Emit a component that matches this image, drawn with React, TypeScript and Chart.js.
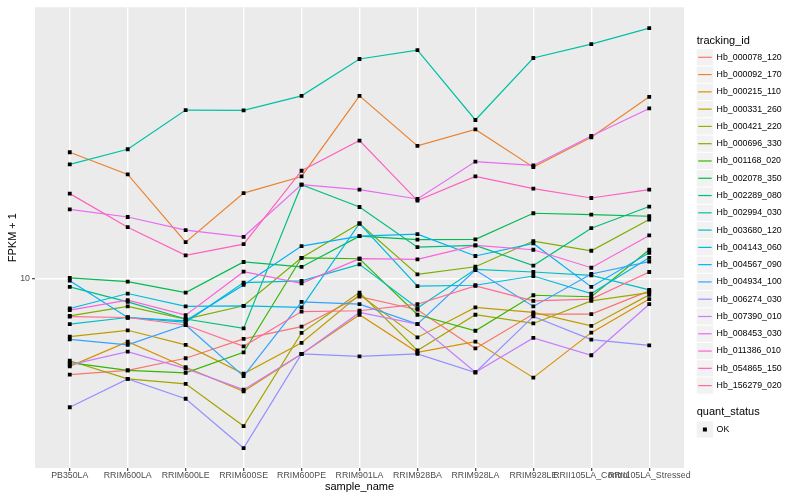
import React, { useEffect, useRef } from "react";
import { Chart, registerables } from "chart.js";

Chart.register(...registerables);

// ---------- data ----------
const sampleNames = [
  "PB350LA", "RRIM600LA", "RRIM600LE", "RRIM600SE", "RRIM600PE", "RRIM901LA",
  "RRIM928BA", "RRIM928LA", "RRIM928LE", "RRII105LA_Control", "RRII105LA_Stressed",
];

const trackingIds = [
  "Hb_000078_120", "Hb_000092_170", "Hb_000215_110", "Hb_000331_260", "Hb_000421_220",
  "Hb_000696_330", "Hb_001168_020", "Hb_002078_350", "Hb_002289_080", "Hb_002994_030",
  "Hb_003680_120", "Hb_004143_060", "Hb_004567_090", "Hb_004934_100", "Hb_006274_030",
  "Hb_007390_010", "Hb_008453_030", "Hb_011386_010", "Hb_054865_150", "Hb_156279_020",
];

const trackColors = [
  "#F8766D", "#EA8331", "#D89000", "#C09B00", "#A3A500",
  "#7CAE00", "#39B600", "#00BB4E", "#00BF7D", "#00C1A3",
  "#00BFC4", "#00BAE0", "#00B0F6", "#35A2FF", "#9590FF",
  "#C77CFF", "#E76BF3", "#FA62DB", "#FF62BC", "#FF6C91",
];

// FPKM + 1 per sample (same order as sampleNames)
const hb000078_120 = [5.75, 5.89, 6.32, 7.07, 7.59, 9.03, 8.37, 6.69, 8.16, 8.16, 9.33];
const hb000092_170 = [20.81, 18.3, 12.37, 16.43, 18.09, 28.84, 21.59, 23.75, 19.09, 22.69, 28.67];
const hb000215_110 = [6.03, 6.96, 6.0, 5.22, 6.48, 8.13, 6.54, 6.96, 5.65, 7.33, 8.9];
const hb000331_260 = [7.16, 7.43, 6.83, 5.78, 6.91, 9.12, 7.13, 8.48, 8.24, 7.62, 9.12];
const hb000421_220 = [6.23, 5.61, 5.45, 4.27, 7.32, 9.24, 6.61, 8.13, 7.73, 8.81, 9.24];
const hb000696_330 = [8.08, 8.53, 7.93, 8.56, 11.3, 13.78, 10.27, 10.73, 12.45, 11.77, 14.1];
const hb001168_020 = [6.16, 5.89, 5.81, 6.54, 11.3, 11.24, 8.13, 7.41, 9.1, 9.02, 11.84];
const hb002078_350 = [10.06, 9.85, 9.24, 11.03, 10.72, 12.81, 12.55, 12.57, 14.62, 14.51, 14.37];
const hb002289_080 = [9.55, 8.76, 7.93, 7.51, 17.25, 15.16, 12.02, 12.14, 10.8, 13.41, 15.2];
const hb002994_030 = [19.39, 21.17, 26.56, 26.5, 28.84, 35.69, 37.58, 25.08, 35.89, 38.9, 42.66];
const hb003680_120 = [7.7, 8.0, 7.78, 9.79, 9.89, 10.88, 8.45, 10.57, 10.41, 10.21, 9.39];
const hb004143_060 = [8.43, 9.19, 8.53, 8.56, 8.48, 13.78, 9.59, 9.64, 10.17, 9.19, 11.3];
const hb004567_090 = [9.9, 8.0, 7.85, 9.66, 12.09, 12.81, 12.96, 11.42, 12.28, 9.55, 11.63];
const hb004934_100 = [7.05, 6.83, 7.66, 5.7, 8.76, 8.64, 7.7, 10.53, 8.53, 10.29, 11.05];
const hb006274_030 = [4.76, 5.61, 5.0, 3.76, 6.48, 6.39, 6.48, 5.82, 8.05, 7.04, 6.81];
const hb007390_010 = [6.08, 6.57, 5.95, 5.27, 6.48, 8.24, 7.7, 5.83, 7.11, 6.43, 8.64];
const hb008453_030 = [14.96, 14.31, 13.26, 12.76, 17.25, 16.76, 15.88, 19.72, 19.28, 22.87, 26.81];
const hb011386_010 = [8.35, 8.85, 8.11, 10.43, 9.75, 11.24, 11.2, 12.14, 11.84, 10.67, 12.86];
const hb054865_150 = [16.38, 13.49, 11.46, 12.23, 18.7, 22.26, 15.73, 18.09, 16.86, 15.97, 16.76];
const hb156279_020 = [8.04, 8.0, 7.66, 6.77, 8.28, 8.32, 8.64, 9.61, 8.81, 8.9, 10.41];

const seriesValues = [
  hb000078_120, hb000092_170, hb000215_110, hb000331_260, hb000421_220,
  hb000696_330, hb001168_020, hb002078_350, hb002289_080, hb002994_030,
  hb003680_120, hb004143_060, hb004567_090, hb004934_100, hb006274_030,
  hb007390_010, hb008453_030, hb011386_010, hb054865_150, hb156279_020,
];

const yTickValues = [10];
const yRange = [3.35, 48.13];
const quantStatus = ["OK"];

// ---------- chart ----------
const FONT = '"Liberation Sans", Arial, Helvetica, sans-serif';

const panelPlugin = {
  id: "panelBg",
  beforeDraw(chart: any) {
    const { ctx, chartArea: a } = chart;
    ctx.save();
    ctx.fillStyle = "#FFFFFF";
    ctx.fillRect(0, 0, chart.width, chart.height);
    ctx.fillStyle = "#EBEBEB";
    ctx.fillRect(a.left, a.top, a.right - a.left, a.bottom - a.top);
    ctx.restore();
  },
};

const legendPlugin = {
  id: "ggLegend",
  afterDraw(chart: any) {
    const ctx = chart.ctx;
    const x0 = 696.7;
    ctx.save();
    ctx.textBaseline = "middle";
    ctx.textAlign = "left";
    ctx.fillStyle = "#000000";
    ctx.font = `11px ${FONT}`;
    ctx.fillText("tracking_id", x0, 40.5);
    ctx.font = `8.8px ${FONT}`;
    trackingIds.forEach((id, i) => {
      const cy = 57.3 + i * 17.28;
      ctx.fillStyle = "#F2F2F2";
      ctx.fillRect(x0, cy - 8.1, 16.4, 16.2);
      ctx.strokeStyle = trackColors[i];
      ctx.lineWidth = 1.2;
      ctx.beginPath();
      ctx.moveTo(x0 + 1.5, cy);
      ctx.lineTo(x0 + 15, cy);
      ctx.stroke();
      ctx.fillStyle = "#000000";
      ctx.fillText(id, 716.6, cy);
    });
    ctx.font = `11px ${FONT}`;
    ctx.fillText("quant_status", x0, 412.3);
    quantStatus.forEach((s, i) => {
      const cy = 429.5 + i * 17.28;
      ctx.fillStyle = "#F2F2F2";
      ctx.fillRect(x0, cy - 8.1, 16.4, 16.2);
      ctx.fillStyle = "#000000";
      ctx.fillRect(x0 + 6.2, cy - 2, 4, 4);
      ctx.font = `8.8px ${FONT}`;
      ctx.fillText(s, 716.6, cy);
    });
    ctx.restore();
  },
};

export default function App() {
  const canvasRef = useRef<HTMLCanvasElement | null>(null);

  useEffect(() => {
    const canvas = canvasRef.current;
    if (!canvas) return;

    const n = seriesValues.length;
    const lineSets = seriesValues.map((vals, i) => ({
      type: "line" as const,
      label: trackingIds[i],
      data: vals.map((v, j) => ({ x: j, y: v })),
      borderColor: trackColors[i],
      backgroundColor: trackColors[i],
      borderWidth: 1.2,
      pointRadius: 0,
      tension: 0,
      fill: false,
      order: n - i,
    }));

    const pointSet = {
      type: "line" as const,
      label: "quant_status",
      data: seriesValues.flatMap((vals) => vals.map((v, j) => ({ x: j, y: v }))),
      showLine: false,
      pointStyle: "rect" as const,
      pointRadius: 2.7,
      pointBackgroundColor: "#000000",
      pointBorderWidth: 0,
      borderColor: "#000000",
      order: 0,
    };

    const chart = new Chart(canvas, {
      type: "line",
      data: { datasets: [...lineSets, pointSet] as any },
      options: {
        animation: false,
        responsive: false,
        devicePixelRatio: 1,
        events: [],
        layout: { padding: { left: 0, right: 116, top: 5, bottom: 0 } },
        plugins: { legend: { display: false }, tooltip: { enabled: false } },
        scales: {
          x: {
            type: "linear",
            min: -0.6,
            max: 10.6,
            afterBuildTicks: (scale: any) => {
              scale.ticks = sampleNames.map((_, i) => ({ value: i }));
            },
            afterFit: (scale: any) => {
              scale.height = 32;
            },
            ticks: {
              autoSkip: false,
              maxRotation: 0,
              minRotation: 0,
              padding: 0.6,
              color: "#4D4D4D",
              font: { family: FONT, size: 8.8, lineHeight: 1 },
              callback: (v: any) => sampleNames[v] ?? "",
            },
            grid: {
              color: "#FFFFFF",
              lineWidth: 1.4,
              tickColor: "#333333",
              tickLength: 3,
              tickWidth: 1.1,
            },
            border: { display: false },
            title: {
              display: true,
              text: "sample_name",
              color: "#000000",
              font: { family: FONT, size: 11 },
              padding: { top: 0, bottom: 6.5 },
            },
          },
          y: {
            type: "logarithmic",
            min: yRange[0],
            max: yRange[1],
            afterBuildTicks: (scale: any) => {
              scale.ticks = yTickValues.map((v) => ({ value: v }));
            },
            afterFit: (scale: any) => {
              scale.width = 35;
            },
            ticks: {
              padding: 2,
              color: "#4D4D4D",
              font: { family: FONT, size: 8.8 },
              callback: (v: any) => String(v),
            },
            grid: {
              color: "#FFFFFF",
              lineWidth: 1.4,
              tickColor: "#333333",
              tickLength: 3,
              tickWidth: 1.1,
            },
            border: { display: false },
            title: {
              display: true,
              text: "FPKM + 1",
              color: "#000000",
              font: { family: FONT, size: 11 },
              padding: { top: 6.2, bottom: 0 },
            },
          },
        },
      },
      plugins: [panelPlugin, legendPlugin],
    });

    return () => chart.destroy();
  }, []);

  return (
    <div style={{ position: "absolute", left: 0, top: 0, width: 800, height: 500, background: "#fff" }}>
      <canvas ref={canvasRef} width={800} height={500} style={{ width: 800, height: 500, display: "block" }} />
    </div>
  );
}
